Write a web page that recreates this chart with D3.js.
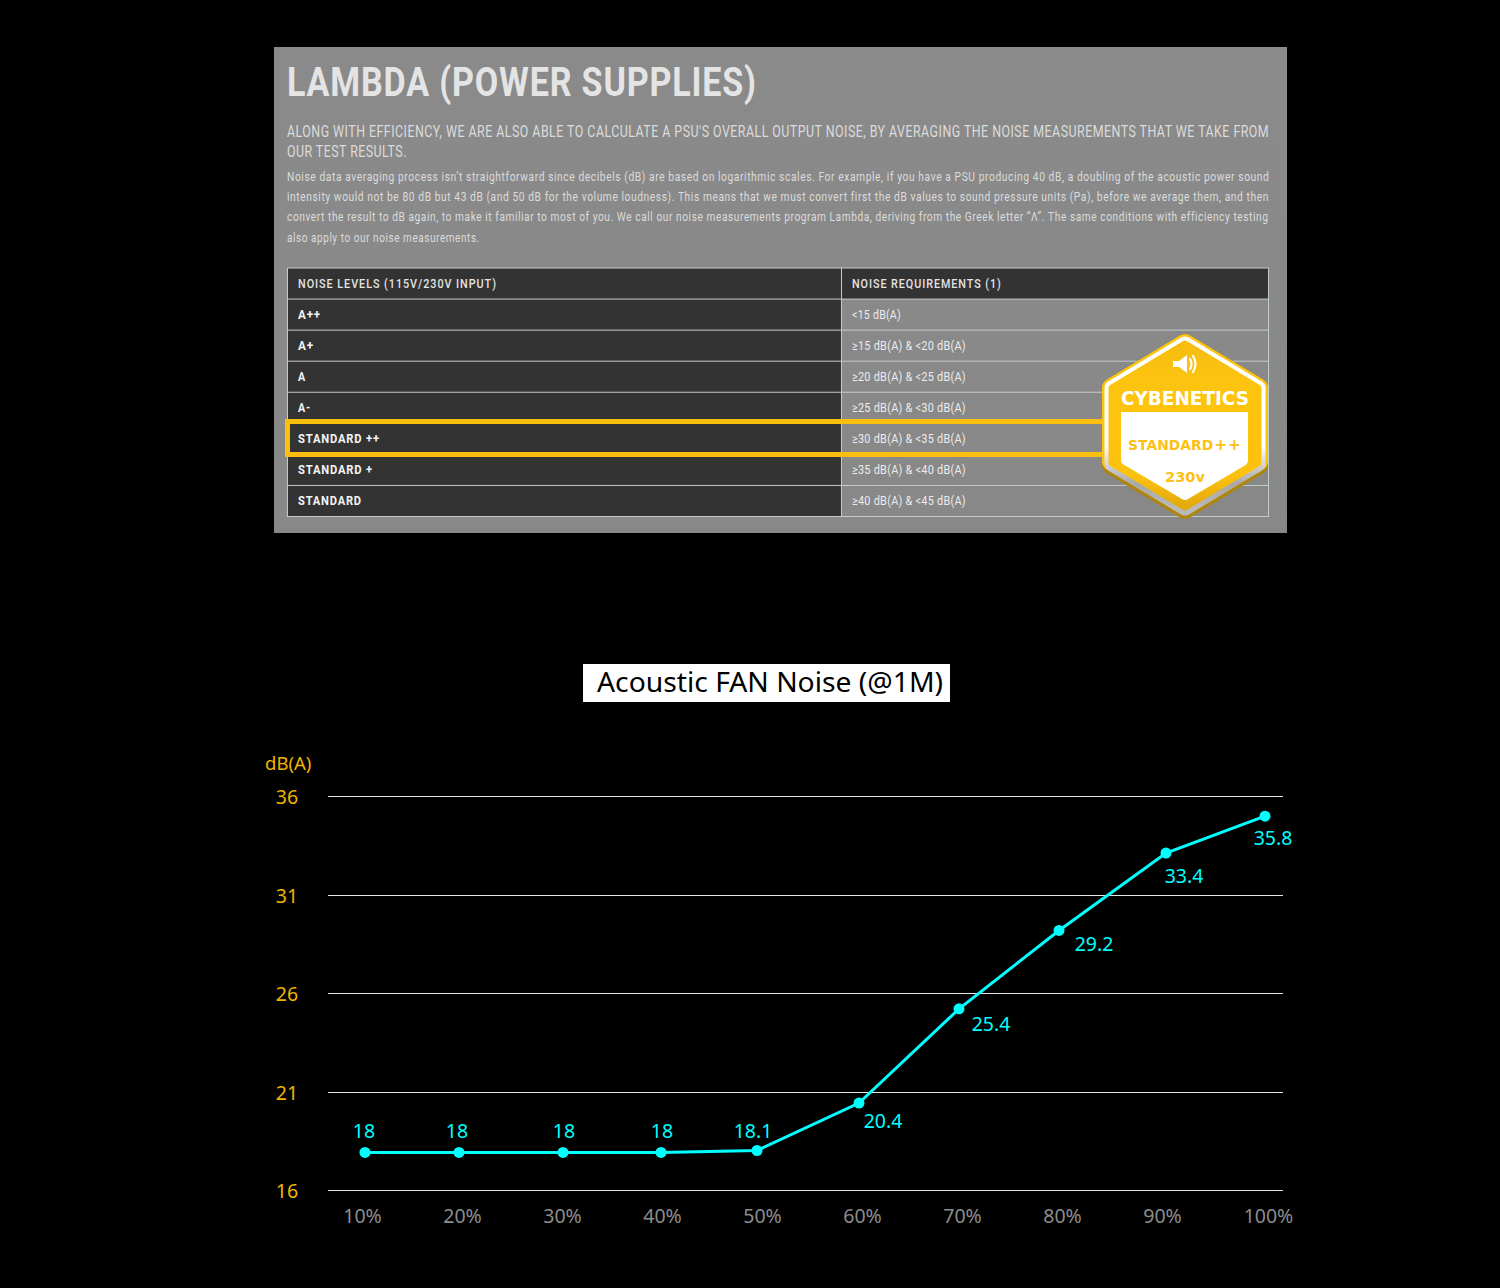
<!DOCTYPE html>
<html><head><meta charset="utf-8">
<script src="https://cdn.jsdelivr.net/npm/d3@7"></script>
<style>html,body{margin:0;padding:0;background:#000;overflow:hidden}svg{display:block}</style>
</head><body><svg id="c" width="1500" height="1288"></svg>
<script>
// ---- chart data ----
const loadTicks = [10,20,30,40,50,60,70,80,90,100];
const tickLabels = ["10%","20%","30%","40%","50%","60%","70%","80%","90%","100%"];
const tickLoadsDrawn = [10,20,30,40,50,60,70,80,90,100.6];
const dbTicks = [16,21,26,31,36];
const pointLoads = [10.2,19.6,30,39.8,49.4,59.6,69.6,79.6,90.3,100.2];
const pointLevels = [17.93,17.93,17.93,17.93,18.03,20.44,25.22,29.2,33.13,35.0];
const pointLabels = ["18","18","18","18","18.1","20.4","25.4","29.2","33.4","35.8"];
const labelDx = [-1,-2,1,1,-4,24,32,35,18,8];
const labelDy = [-21,-21,-21,-21,-20,18,15,14,23,22];

// ---- table data ----
const tableHeader = ["NOISE LEVELS (115V/230V INPUT)","NOISE REQUIREMENTS (1)"];
const noiseLevels = ["A++","A+","A","A-","STANDARD ++","STANDARD +","STANDARD"];
const noiseReqs = ["<15 dB(A)","≥15 dB(A) & <20 dB(A)","≥20 dB(A) & <25 dB(A)","≥25 dB(A) & <30 dB(A)","≥30 dB(A) & <35 dB(A)","≥35 dB(A) & <40 dB(A)","≥40 dB(A) & <45 dB(A)"];
const reqWidths = [49,114,114,114,114,114,114];
const levelWidths = [23,16,8,13,82,75,64];
const leadLines = ["ALONG WITH EFFICIENCY, WE ARE ALSO ABLE TO CALCULATE A PSU'S OVERALL OUTPUT NOISE, BY AVERAGING THE NOISE MEASUREMENTS THAT WE TAKE FROM","OUR TEST RESULTS."];
const leadWidths = [983,120];
const bodyLines = [
"Noise data averaging process isn’t straightforward since decibels (dB) are based on logarithmic scales. For example, if you have a PSU producing 40 dB, a doubling of the acoustic power sound",
"intensity would not be 80 dB but 43 dB (and 50 dB for the volume loudness). This means that we must convert first the dB values to sound pressure units (Pa), before we average them, and then",
"convert the result to dB again, to make it familiar to most of you. We call our noise measurements program Lambda, deriving from the Greek letter “Λ”. The same conditions with efficiency testing",
"also apply to our noise measurements."];
const bodyWidths = [983,983,983,193];

const svg = d3.select("#c");
const FONT = "Roboto, sans-serif", CH = "'Noto Sans', sans-serif";
const defs = svg.append("defs");
function grad(id,stops){
  const g = defs.append("linearGradient").attr("id",id).attr("x1",0).attr("y1",0).attr("x2",0).attr("y2",1);
  stops.forEach(s=>g.append("stop").attr("offset",s[0]).attr("stop-color",s[1]));
}
grad("pg",[[0,"#8a8a8a"],[1,"#888888"]]);
grad("ring",[[0,"#ffffff"],[0.62,"#ffffff"],[0.85,"#a8a8a8"],[1,"#b9b9b9"]]);
grad("body",[[0,"#f6bd10"],[0.25,"#fdc40f"],[0.8,"#fdc20e"],[1,"#e2a90c"]]);

// Squeezes a line of text horizontally so that it spans exactly width w.
function squeeze(sel,x,y,w){
  const len = sel.node().getComputedTextLength();
  sel.attr("transform",`translate(${x},${y}) scale(${w/len},1)`);
  return sel;
}
function fitted(g,txt,x,y,w,size,weight,fill,ls){
  const t = g.append("text").attr("font-family",FONT).attr("font-size",size)
    .attr("font-weight",weight).attr("fill",fill).attr("letter-spacing",ls||0).text(txt);
  return squeeze(t,x,y,w);
}

// ---- panel ----
svg.append("rect").attr("x",274).attr("y",47).attr("width",1013).attr("height",486).attr("fill","url(#pg)");
const panel = svg.append("g");
fitted(panel,"LAMBDA (POWER SUPPLIES)",287,96,470,41,700,"#e4e4e4",1);
leadLines.forEach((t,i)=>fitted(panel,t,287,137+i*20,leadWidths[i],16,400,"#dcdcdc",0.6));
bodyLines.forEach((t,i)=>fitted(panel,t,287,181+i*20.2,bodyWidths[i],12.5,400,"#dcdcdc",0.7));

// ---- table ----
const rowY = d3.scaleBand().domain(d3.range(8)).range([268,516.5]);
const T = svg.append("g");
T.append("rect").attr("x",288).attr("y",268).attr("width",553).attr("height",248.5).attr("fill","#333333");
T.append("rect").attr("x",841).attr("y",268).attr("width",428).attr("height",31).attr("fill","#333333");
T.selectAll("line.h").data(d3.range(9)).join("line").attr("x1",287.5).attr("x2",1269)
  .attr("y1",d=>d===8?516.5:rowY(d)).attr("y2",d=>d===8?516.5:rowY(d)).attr("stroke","#c0cdc9").attr("stroke-width",1);
[287.5,841.5,1268.5].forEach(x=>T.append("line").attr("x1",x).attr("x2",x).attr("y1",268).attr("y2",517).attr("stroke","#c0cdc9"));
fitted(T,tableHeader[0],298,288,199,12.5,500,"#e4e4e4",1.1);
fitted(T,tableHeader[1],852,288,150,12.5,500,"#e4e4e4",1.1);
noiseLevels.forEach((t,i)=>fitted(T,t,298,rowY(i+1)+20,levelWidths[i],12.5,700,"#f4f4f4",0.9));
noiseReqs.forEach((t,i)=>fitted(T,t,852,rowY(i+1)+20,reqWidths[i],12.5,400,"#ececec",0.3));

// ---- highlight ----
svg.append("rect").attr("x",287.5).attr("y",421.5).attr("width",840).attr("height",33).attr("fill","none").attr("stroke","#fdbf0f").attr("stroke-width",5);

// ---- badge ----
const B = svg.append("g");
const hex = (cx,t,b,l,r,c1,c2)=>`M${cx},${t}L${r},${c1}L${r},${c2}L${cx},${b}L${l},${c2}L${l},${c1}Z`;
const hexLayer=(p,fill,sw)=>B.append("path").attr("d",p).attr("fill",fill).attr("stroke",fill).attr("stroke-width",sw).attr("stroke-linejoin","round");
hexLayer(hex(1185,344,509,1112,1258,388,465),"#ad8512",20);
hexLayer(hex(1185,344,505,1112,1258,388,461),"#fdc40f",20);
hexLayer(hex(1185,344,508,1112,1258,388,464),"url(#ring)",15);
hexLayer(hex(1185,344,507,1112,1258,388,463),"url(#body)",7);
B.append("path").attr("d","M1121,412L1248,412L1248,460Q1248,464 1244,466L1188,499Q1185,501 1182,499L1126,466Q1121,464 1121,460Z").attr("fill","#fff");
B.append("path").attr("d","M1173,361L1179,361L1187,355L1187,373L1179,367L1173,367Z").attr("fill","#fff");
B.append("path").attr("d","M1190,359Q1193,364 1190,369M1193,356Q1198,364 1193,372").attr("fill","none").attr("stroke","#fff").attr("stroke-width",2.2).attr("stroke-linecap","round");
function badgeText(t,x,y,w,s,f){
  const el = B.append("text").attr("font-family","'DejaVu Sans',sans-serif").attr("font-weight",700).attr("font-size",s).attr("fill",f).text(t);
  return squeeze(el,x,y,w);
}
badgeText("CYBENETICS",1121,405,128,20,"#fff");
const stdText = B.append("text").attr("font-family","'DejaVu Sans',sans-serif").attr("font-weight",700).attr("font-size",14.5).attr("fill","#fdc014");
stdText.append("tspan").text("STANDARD");
stdText.append("tspan").attr("font-size",16).attr("dx",1).text("+");
stdText.append("tspan").attr("font-size",16).attr("dx",1).text("+");
squeeze(stdText,1128,450,111);
badgeText("230v",1165,482,40,14.5,"#fdc014");

// ---- title ----
svg.append("rect").attr("x",583).attr("y",664).attr("width",367).attr("height",38).attr("fill","#fff");
svg.append("text").attr("x",597).attr("y",692).attr("font-family",CH).attr("font-size",28).attr("fill","#000")
  .attr("textLength",346).attr("lengthAdjust","spacingAndGlyphs").text("Acoustic FAN Noise (@1M)");

// ---- chart ----
const x = d3.scaleLinear().domain([10,100]).range([363,1263]);
const y = d3.scaleLinear().domain([16,36]).range([1190.5,796.5]);
const yAxis = d3.axisLeft(y).tickValues(dbTicks).tickSize(955).tickFormat(d3.format("d")).offset(0);
const gy = svg.append("g").attr("transform","translate(1283,0)").call(yAxis);
gy.select(".domain").remove();
gy.selectAll(".tick").attr("transform",d=>`translate(0,${Math.floor(y(d))+0.5})`);
gy.selectAll(".tick line").attr("stroke","#e6e6e6").attr("stroke-width",1);
gy.selectAll(".tick text").attr("x",-996).attr("dy","0.4em").attr("text-anchor","middle")
  .attr("font-family",CH).attr("font-size",19.5).attr("fill","#f0b400");
svg.append("text").attr("x",265).attr("y",770).attr("font-family",CH).attr("font-size",18.5).attr("fill","#f0b400").text("dB(A)");

svg.append("g").selectAll("text").data(loadTicks).join("text")
  .attr("x",(d,i)=>x(tickLoadsDrawn[i])-0.5).attr("y",1223).attr("text-anchor","middle")
  .attr("font-family",CH).attr("font-size",19.5).attr("fill","#8c8c8c").text((d,i)=>tickLabels[i]);

const pts = pointLoads.map((l,i)=>[x(l),y(pointLevels[i])]);
svg.append("path").attr("d",d3.line()(pts)).attr("fill","none").attr("stroke","#00ffff").attr("stroke-width",3);
svg.append("g").selectAll("circle").data(pts).join("circle").attr("cx",d=>d[0]).attr("cy",d=>d[1]).attr("r",5.5).attr("fill","#00ffff");
svg.append("g").selectAll("text").data(pts).join("text")
  .attr("x",(d,i)=>d[0]+labelDx[i]).attr("y",(d,i)=>d[1]+labelDy[i]+7).attr("text-anchor","middle")
  .attr("font-family",CH).attr("font-size",19.5).attr("fill","#00ffff").text((d,i)=>pointLabels[i]);
</script></body></html>
